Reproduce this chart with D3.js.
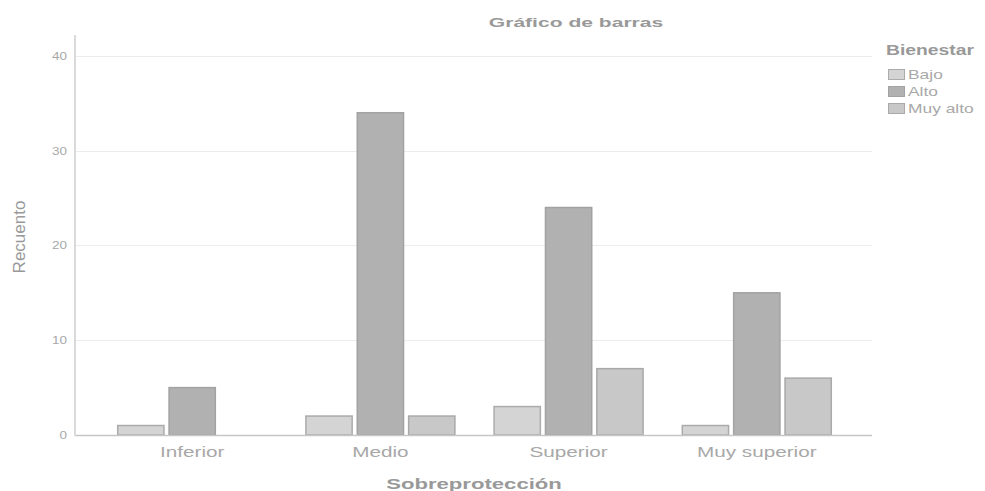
<!DOCTYPE html>
<html>
<head>
<meta charset="utf-8">
<script src="https://cdn.jsdelivr.net/npm/d3@7"></script>
<style>
  body { margin: 0; background: #fff; }
  text { font-family: "Liberation Sans", Arial, sans-serif; }
</style>
</head>
<body>
<div id="chart"></div>
<script>
// data
var categories = ['Inferior', 'Medio', 'Superior', 'Muy superior'];
var series = ['Bajo', 'Alto', 'Muy alto'];
var bajo = [1, 2, 3, 1];
var alto = [5, 34, 24, 15];
var muyAlto = [0, 2, 7, 6];
var yTicks = [0, 10, 20, 30, 40];

var values = { 'Bajo': bajo, 'Alto': alto, 'Muy alto': muyAlto };
var fills = { 'Bajo': '#d4d4d4', 'Alto': '#b1b1b1', 'Muy alto': '#c8c8c8' };
var strokes = { 'Bajo': '#ababab', 'Alto': '#a2a2a2', 'Muy alto': '#a9a9a9' };

var width = 985, height = 491;
var plot = { left: 75, right: 872, top: 35, bottom: 435 };

var svg = d3.select('#chart').append('svg')
    .attr('width', width)
    .attr('height', height);

var y = d3.scaleLinear()
    .domain([0, 42.2])
    .range([plot.bottom, plot.top]);

var x0 = d3.scaleBand()
    .domain(categories)
    .range([79, 870])
    .padding(0.203);

var x1 = d3.scaleBand()
    .domain(series)
    .range([0, x0.bandwidth()])
    .paddingInner(0.08);

// stretched text, the original looks widened horizontally
function label(g, tx, ty, str, opts) {
    var t = g.append('text')
        .attr('transform', 'translate(' + tx + ',' + ty + ') scale(' + (opts.sx || 1) + ',1)')
        .attr('text-anchor', opts.anchor || 'start')
        .style('font-size', opts.size + 'px')
        .style('font-weight', opts.bold ? 'bold' : 'normal')
        .style('fill', opts.color || '#aaa')
        .text(str);
    return t;
}

// gridlines
svg.append('g')
    .selectAll('line')
    .data(yTicks.filter(function (d) { return d > 0; }))
    .enter().append('line')
    .attr('x1', plot.left + 1)
    .attr('x2', plot.right)
    .attr('y1', function (d) { return Math.round(y(d)) + 0.5; })
    .attr('y2', function (d) { return Math.round(y(d)) + 0.5; })
    .attr('stroke', '#ececec')
    .attr('stroke-width', 1);

// bars
var groups = svg.append('g')
    .selectAll('g')
    .data(categories)
    .enter().append('g')
    .attr('transform', function (d) { return 'translate(' + x0(d) + ',0)'; });

groups.selectAll('rect')
    .data(function (c, i) {
        return series.map(function (s) { return { s: s, v: values[s][i] }; })
            .filter(function (d) { return d.v > 0; });
    })
    .enter().append('rect')
    .attr('x', function (d) { return x1(d.s) + 0.5; })
    .attr('y', function (d) { return y(d.v); })
    .attr('width', x1.bandwidth() - 1)
    .attr('height', function (d) { return plot.bottom - y(d.v); })
    .attr('fill', function (d) { return fills[d.s]; })
    .attr('stroke', function (d) { return strokes[d.s]; })
    .attr('stroke-width', 1.5);

// axes lines
svg.append('line')
    .attr('x1', plot.left).attr('x2', plot.right)
    .attr('y1', plot.bottom + 0.5).attr('y2', plot.bottom + 0.5)
    .attr('stroke', '#c6c6c6').attr('stroke-width', 1.5);

svg.append('line')
    .attr('x1', plot.left).attr('x2', plot.left)
    .attr('y1', plot.top).attr('y2', plot.bottom + 1)
    .attr('stroke', '#dadada').attr('stroke-width', 2);

// y tick labels
var yl = svg.append('g');
yTicks.forEach(function (d) {
    label(yl, 67, y(d) + 4, d, { size: 10, sx: 1.35, anchor: 'end', color: '#a8a8a8' });
});

// x tick labels
var xl = svg.append('g');
categories.forEach(function (c) {
    label(xl, x0(c) + x0.bandwidth() / 2, 457, c, { size: 15, sx: 1.38, anchor: 'middle', color: '#a8a8a8' });
});

// titles
label(svg, 576, 27, 'Gráfico de barras', { size: 13, sx: 1.62, bold: true, anchor: 'middle', color: '#999' });
label(svg, 474, 489, 'Sobreprotección', { size: 14, sx: 1.58, bold: true, anchor: 'middle', color: '#999' });

svg.append('text')
    .attr('transform', 'translate(25,237) rotate(-90)')
    .attr('text-anchor', 'middle')
    .style('font-size', '17px')
    .style('fill', '#999')
    .text('Recuento');

// legend
var lg = svg.append('g');
label(lg, 886, 55, 'Bienestar', { size: 14, sx: 1.38, bold: true, color: '#999' });
series.forEach(function (s, i) {
    var yy = 69 + i * 17;
    lg.append('rect')
        .attr('x', 888.5).attr('y', yy + 0.5)
        .attr('width', 16).attr('height', 10)
        .attr('fill', fills[s])
        .attr('stroke', strokes[s]);
    label(lg, 908, yy + 10, s, { size: 12, sx: 1.45, color: '#a8a8a8' });
});
</script>
</body>
</html>
